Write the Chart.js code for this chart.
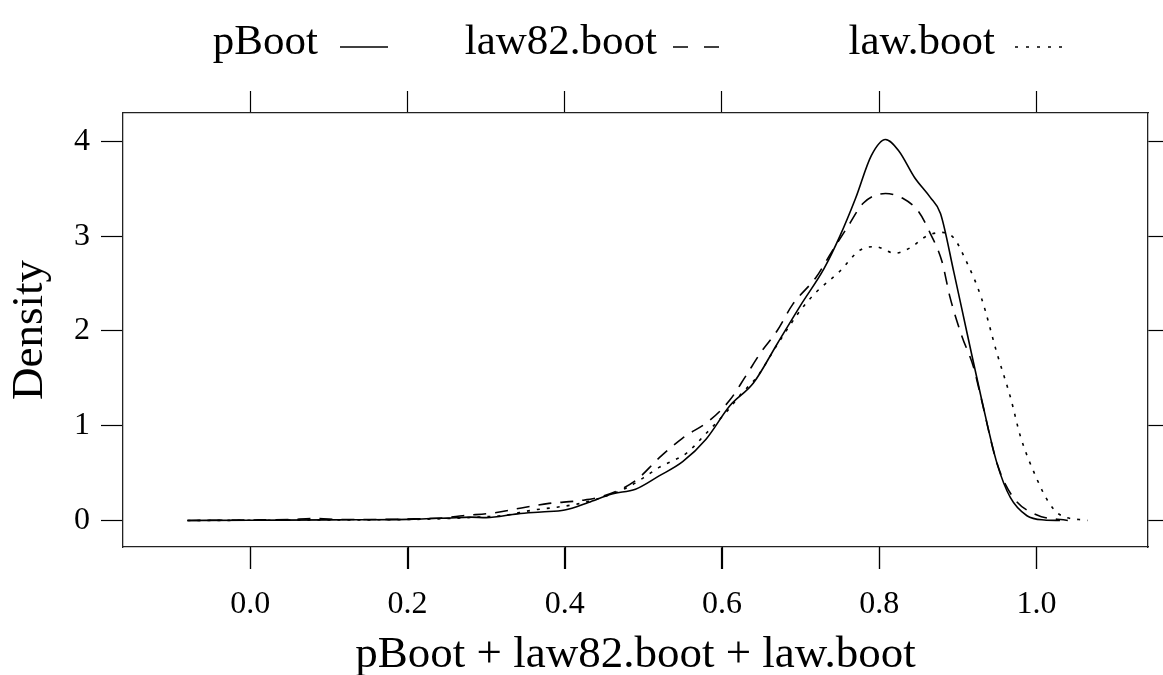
<!DOCTYPE html>
<html lang="en">
<head>
    <meta charset="UTF-8">
    <title>Density plot - pBoot, law82.boot, law.boot</title>
    <script src="https://cdn.jsdelivr.net/npm/chart.js"></script>
    <style>
        body {
            margin: 0;
            background: #ffffff;
        }
        #wrap {
            width: 1163px;
            height: 675px;
        }
    </style>
</head>
<body>
    <div id="wrap"><canvas id="densityChart"></canvas></div>

    <script>
        // density estimates
        var pBootX = [-0.08, 0.0, 0.1, 0.2, 0.25, 0.28, 0.30, 0.34, 0.37, 0.40, 0.43, 0.46, 0.49, 0.52, 0.55, 0.58, 0.61, 0.64, 0.67, 0.70, 0.73, 0.75, 0.77, 0.79, 0.808, 0.825, 0.845, 0.865, 0.878, 0.895, 0.912, 0.93, 0.95, 0.967, 0.988, 1.01, 1.03];
        var pBootY = [0, 0.003, 0.006, 0.012, 0.025, 0.035, 0.03, 0.07, 0.09, 0.11, 0.19, 0.28, 0.33, 0.47, 0.62, 0.86, 1.21, 1.45, 1.86, 2.27, 2.66, 3.0, 3.40, 3.85, 4.02, 3.90, 3.62, 3.41, 3.24, 2.62, 1.97, 1.29, 0.60, 0.24, 0.05, 0.005, 0];

        var law82X = [-0.08, 0.0, 0.05, 0.08, 0.12, 0.2, 0.25, 0.27, 0.31, 0.35, 0.38, 0.42, 0.45, 0.49, 0.52, 0.55, 0.585, 0.61, 0.63, 0.65, 0.67, 0.69, 0.72, 0.74, 0.76, 0.78, 0.808, 0.83, 0.85, 0.865, 0.88, 0.89, 0.905, 0.92, 0.93, 0.95, 0.97, 1.0, 1.04];
        var law82Y = [0, 0.005, 0.01, 0.02, 0.01, 0.015, 0.03, 0.05, 0.08, 0.14, 0.18, 0.21, 0.26, 0.42, 0.66, 0.87, 1.06, 1.27, 1.52, 1.78, 2.0, 2.28, 2.57, 2.84, 3.1, 3.35, 3.45, 3.40, 3.26, 3.03, 2.73, 2.36, 1.95, 1.62, 1.28, 0.60, 0.25, 0.06, 0];

        var lawX = [-0.08, 0.1, 0.2, 0.25, 0.3, 0.32, 0.36, 0.39, 0.42, 0.45, 0.48, 0.50, 0.52, 0.535, 0.555, 0.58, 0.605, 0.625, 0.645, 0.67, 0.70, 0.72, 0.75, 0.775, 0.795, 0.82, 0.84, 0.86, 0.88, 0.895, 0.91, 0.93, 0.95, 0.967, 0.98, 1.0, 1.015, 1.03, 1.065];
        var lawY = [0, 0.005, 0.01, 0.02, 0.04, 0.05, 0.11, 0.14, 0.18, 0.25, 0.35, 0.45, 0.56, 0.62, 0.71, 0.92, 1.14, 1.34, 1.52, 1.85, 2.22, 2.41, 2.63, 2.85, 2.89, 2.82, 2.88, 3.0, 3.04, 2.98, 2.75, 2.35, 1.76, 1.30, 0.88, 0.45, 0.2, 0.06, 0];

        var seriesNames = ["pBoot", "law82.boot", "law.boot"];
        var xTicks = [0.0, 0.2, 0.4, 0.6, 0.8, 1.0];
        var xTickLabels = ["0.0", "0.2", "0.4", "0.6", "0.8", "1.0"];
        var yTicks = [0, 1, 2, 3, 4];
        var yTickLabels = ["0", "1", "2", "3", "4"];

        var serif = "'Liberation Serif', 'DejaVu Serif', serif";

        function toPoints(xs, ys) {
            return xs.map(function (x, i) { return { x: x, y: ys[i] }; });
        }

        function setTicks(values) {
            return function (scale) {
                scale.ticks = values.map(function (v) { return { value: v }; });
            };
        }

        // key above the panel: label first, then the line sample
        var keyTextRight = [318, 657, 995];
        var keyLineLeft = [340, 673, 1015];
        var keyLineDash = [[], [15, 16], [3, 8]];
        var topKey = {
            id: 'topKey',
            afterDraw: function (chart) {
                var ctx = chart.ctx;
                ctx.save();
                ctx.font = "43px " + serif;
                ctx.fillStyle = "#000";
                ctx.strokeStyle = "#000";
                ctx.lineWidth = 1.5;
                ctx.textBaseline = "middle";
                ctx.textAlign = "right";
                var y = 43;
                chart.data.datasets.forEach(function (ds, i) {
                    ctx.fillText(ds.label, keyTextRight[i], y);
                    ctx.beginPath();
                    ctx.setLineDash(keyLineDash[i]);
                    ctx.moveTo(keyLineLeft[i], y + 4);
                    ctx.lineTo(keyLineLeft[i] + 48, y + 4);
                    ctx.stroke();
                });
                ctx.restore();
            }
        };

        // outward tick marks under the bottom axis, placed by the x scale
        var bottomMarks = {
            id: 'bottomMarks',
            afterDraw: function (chart) {
                var sc = chart.scales.x;
                var ctx = chart.ctx;
                ctx.save();
                ctx.strokeStyle = "#000";
                ctx.lineWidth = 1.2;
                sc.ticks.forEach(function (t) {
                    var px = Math.round(sc.getPixelForValue(t.value)) + 0.5;
                    ctx.beginPath();
                    ctx.moveTo(px, sc.top);
                    ctx.lineTo(px, sc.top + 22);
                    ctx.stroke();
                });
                ctx.restore();
            }
        };

        var ctx = document.getElementById('densityChart').getContext('2d');
        var densityChart = new Chart(ctx, {
            type: 'scatter',
            data: {
                datasets: [
                    { label: seriesNames[0], data: toPoints(pBootX, pBootY), borderColor: "#000", borderWidth: 1.6, borderDash: [] },
                    { label: seriesNames[1], data: toPoints(law82X, law82Y), borderColor: "#000", borderWidth: 1.6, borderDash: [13, 9] },
                    { label: seriesNames[2], data: toPoints(lawX, lawY), borderColor: "#000", borderWidth: 1.6, borderDash: [3, 7] }
                ]
            },
            options: {
                responsive: true,
                maintainAspectRatio: false,
                animation: false,
                showLine: true,
                elements: {
                    point: { radius: 0, hoverRadius: 0 },
                    line: { cubicInterpolationMode: 'monotone', fill: false }
                },
                layout: { padding: 0 },
                plugins: {
                    legend: { display: false },
                    tooltip: { enabled: false }
                },
                scales: {
                    x: {
                        type: 'linear',
                        position: 'bottom',
                        min: -0.162,
                        max: 1.142,
                        afterBuildTicks: setTicks(xTicks),
                        afterFit: function (s) { s.height = 128; },
                        grid: { drawOnChartArea: false, drawTicks: true, tickLength: 22, color: "#000", tickWidth: 1.2 },
                        border: { display: true, color: "#222", width: 1.3 },
                        ticks: {
                            color: "#000",
                            font: { family: serif, size: 32 },
                            padding: 16,
                            maxRotation: 0,
                            autoSkip: false,
                            callback: function (v, i) { return xTickLabels[i]; }
                        },
                        title: {
                            display: true,
                            text: seriesNames.join(" + "),
                            color: "#000",
                            font: { family: serif, size: 45, lineHeight: 0.9 },
                            padding: { top: 0, bottom: 0 }
                        }
                    },
                    xTop: {
                        type: 'linear',
                        position: 'top',
                        min: -0.162,
                        max: 1.142,
                        afterBuildTicks: setTicks(xTicks),
                        afterFit: function (s) { s.height = 113; },
                        grid: { drawOnChartArea: false, drawTicks: true, tickLength: 22, color: "#000", tickWidth: 1.2 },
                        border: { display: true, color: "#222", width: 1.3 },
                        ticks: { display: false }
                    },
                    y: {
                        type: 'linear',
                        position: 'left',
                        min: -0.28,
                        max: 4.30,
                        afterBuildTicks: setTicks(yTicks),
                        afterFit: function (s) { s.width = 123; },
                        grid: { drawOnChartArea: false, drawTicks: true, tickLength: 22, color: "#000", tickWidth: 1.2 },
                        border: { display: true, color: "#222", width: 1.3 },
                        ticks: {
                            color: "#000",
                            font: { family: serif, size: 32 },
                            padding: 11,
                            autoSkip: false,
                            callback: function (v, i) { return yTickLabels[i]; }
                        },
                        title: {
                            display: true,
                            text: "Density",
                            color: "#000",
                            font: { family: serif, size: 45, lineHeight: 1 },
                            padding: { top: 8, bottom: 0 }
                        }
                    },
                    yRight: {
                        type: 'linear',
                        position: 'right',
                        min: -0.28,
                        max: 4.30,
                        afterBuildTicks: setTicks(yTicks),
                        afterFit: function (s) { s.width = 15; },
                        grid: { drawOnChartArea: false, drawTicks: true, tickLength: 22, color: "#000", tickWidth: 1.2 },
                        border: { display: true, color: "#222", width: 1.3 },
                        ticks: { display: false }
                    }
                }
            },
            plugins: [topKey, bottomMarks]
        });
    </script>
</body>
</html>
